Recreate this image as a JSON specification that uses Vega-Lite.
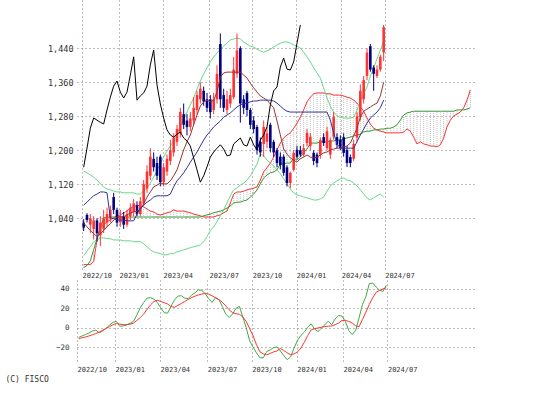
{
"$schema": "https://vega.github.io/schema/vega-lite/v6.json",
"background": "white",
"padding": {"left": 5, "top": 0, "right": 0, "bottom": 0},
"spacing": 11,
"bounds": "flush",
"resolve": {"scale": {"color": "independent"}},
"title": {"text": "(C) FISCO", "orient": "bottom", "anchor": "start", "fontSize": 8, "font": "DejaVu Sans Mono", "fontWeight": "normal", "color": "#333333", "offset": 4, "dx": -42},
"config": {
  "view": {"stroke": null},
  "font": "DejaVu Sans Mono",
  "axis": {"domain": false, "ticks": false, "tickSize": 0, "grid": true, "gridColor": "#7a7a7a", "gridDash": [1, 3], "gridWidth": 1, "labelColor": "#333333", "labelFont": "DejaVu Sans Mono", "labelOverlap": false}
},
"datasets": {
  "candles": [
{"k":0,"o":1030,"h":1038,"l":1010,"c":1018},{"k":1,"o":1048,"h":1052,"l":1030,"c":1036},{"k":2,"o":1025,"h":1050,"l":1005,"c":1040},{"k":3,"o":1015,"h":1045,"l":990,"c":1035},{"k":4,"o":1035,"h":1040,"l":985,"c":1005},{"k":5,"o":1000,"h":1045,"l":975,"c":1030},{"k":6,"o":1015,"h":1060,"l":1005,"c":1040},{"k":7,"o":1030,"h":1065,"l":1020,"c":1050},{"k":8,"o":1040,"h":1070,"l":1030,"c":1060},{"k":9,"o":1090,"h":1100,"l":1050,"c":1060},
{"k":10,"o":1060,"h":1065,"l":1020,"c":1030},{"k":11,"o":1030,"h":1060,"l":1020,"c":1045},{"k":12,"o":1045,"h":1055,"l":1015,"c":1025},{"k":13,"o":1025,"h":1060,"l":1020,"c":1050},{"k":14,"o":1045,"h":1075,"l":1035,"c":1065},{"k":15,"o":1055,"h":1085,"l":1045,"c":1075},{"k":16,"o":1070,"h":1080,"l":1045,"c":1050},{"k":17,"o":1050,"h":1090,"l":1045,"c":1080},{"k":18,"o":1075,"h":1130,"l":1070,"c":1120},{"k":19,"o":1110,"h":1165,"l":1100,"c":1150},
{"k":20,"o":1140,"h":1205,"l":1130,"c":1185},{"k":21,"o":1180,"h":1195,"l":1150,"c":1160},{"k":22,"o":1170,"h":1185,"l":1130,"c":1140},{"k":23,"o":1185,"h":1190,"l":1115,"c":1125},{"k":24,"o":1125,"h":1170,"l":1115,"c":1160},{"k":25,"o":1150,"h":1190,"l":1140,"c":1180},{"k":26,"o":1175,"h":1225,"l":1165,"c":1200},{"k":27,"o":1195,"h":1240,"l":1185,"c":1230},{"k":28,"o":1220,"h":1260,"l":1210,"c":1250},{"k":29,"o":1240,"h":1300,"l":1230,"c":1290},
{"k":30,"o":1285,"h":1310,"l":1250,"c":1260},{"k":31,"o":1270,"h":1285,"l":1235,"c":1255},{"k":32,"o":1255,"h":1290,"l":1245,"c":1275},{"k":33,"o":1270,"h":1325,"l":1260,"c":1300},{"k":34,"o":1295,"h":1340,"l":1285,"c":1330},{"k":35,"o":1320,"h":1360,"l":1310,"c":1345},{"k":36,"o":1340,"h":1350,"l":1305,"c":1315},{"k":37,"o":1320,"h":1335,"l":1290,"c":1300},{"k":38,"o":1320,"h":1330,"l":1275,"c":1290},{"k":39,"o":1295,"h":1335,"l":1285,"c":1320},
{"k":40,"o":1320,"h":1400,"l":1310,"c":1380},{"k":41,"o":1450,"h":1475,"l":1300,"c":1320},{"k":42,"o":1330,"h":1345,"l":1290,"c":1300},{"k":43,"o":1295,"h":1340,"l":1285,"c":1320},{"k":44,"o":1310,"h":1345,"l":1300,"c":1330},{"k":45,"o":1325,"h":1420,"l":1320,"c":1390},{"k":46,"o":1380,"h":1475,"l":1370,"c":1435},{"k":47,"o":1440,"h":1445,"l":1265,"c":1310},{"k":48,"o":1320,"h":1330,"l":1285,"c":1300},{"k":49,"o":1335,"h":1340,"l":1280,"c":1295},
{"k":50,"o":1295,"h":1300,"l":1250,"c":1260},{"k":51,"o":1270,"h":1280,"l":1240,"c":1250},{"k":52,"o":1255,"h":1260,"l":1190,"c":1200},{"k":53,"o":1220,"h":1230,"l":1185,"c":1195},{"k":54,"o":1215,"h":1270,"l":1185,"c":1255},{"k":55,"o":1220,"h":1255,"l":1205,"c":1240},{"k":56,"o":1260,"h":1265,"l":1195,"c":1205},{"k":57,"o":1220,"h":1225,"l":1185,"c":1195},{"k":58,"o":1200,"h":1205,"l":1160,"c":1170},{"k":59,"o":1185,"h":1195,"l":1155,"c":1165},
{"k":60,"o":1185,"h":1190,"l":1140,"c":1147},{"k":61,"o":1160,"h":1165,"l":1115,"c":1123},{"k":62,"o":1123,"h":1150,"l":1111,"c":1147},{"k":63,"o":1154,"h":1200,"l":1150,"c":1194},{"k":64,"o":1201,"h":1210,"l":1180,"c":1185},{"k":65,"o":1200,"h":1210,"l":1185,"c":1190},{"k":66,"o":1190,"h":1215,"l":1185,"c":1205},{"k":67,"o":1217,"h":1250,"l":1210,"c":1241},{"k":68,"o":1210,"h":1240,"l":1200,"c":1232},{"k":69,"o":1194,"h":1200,"l":1165,"c":1175},
{"k":70,"o":1190,"h":1195,"l":1160,"c":1170},{"k":71,"o":1190,"h":1230,"l":1180,"c":1224},{"k":72,"o":1231,"h":1240,"l":1210,"c":1217},{"k":73,"o":1205,"h":1255,"l":1200,"c":1245},{"k":74,"o":1190,"h":1230,"l":1180,"c":1224},{"k":75,"o":1232,"h":1290,"l":1225,"c":1279},{"k":76,"o":1231,"h":1240,"l":1205,"c":1213},{"k":77,"o":1225,"h":1235,"l":1200,"c":1205},{"k":78,"o":1231,"h":1240,"l":1185,"c":1194},{"k":79,"o":1201,"h":1210,"l":1161,"c":1170},
{"k":80,"o":1184,"h":1190,"l":1160,"c":1170},{"k":81,"o":1180,"h":1225,"l":1175,"c":1215},{"k":82,"o":1230,"h":1290,"l":1220,"c":1280},{"k":83,"o":1278,"h":1355,"l":1270,"c":1340},{"k":84,"o":1320,"h":1375,"l":1310,"c":1365},{"k":85,"o":1375,"h":1440,"l":1365,"c":1430},{"k":86,"o":1445,"h":1450,"l":1385,"c":1390},{"k":87,"o":1395,"h":1400,"l":1340,"c":1380},{"k":88,"o":1375,"h":1400,"l":1370,"c":1390},{"k":89,"o":1390,"h":1425,"l":1385,"c":1420},
{"k":90,"o":1430,"h":1495,"l":1410,"c":1490}
  ],
  "ind": [
{"k":0,"t":1029,"kj":1071,"bu":1151,"bl":952,"ch":1160,"m":-10,"sg":-11.2},
{"k":1,"t":1020,"kj":1078,"bu":1147,"bl":963,"ch":1205,"m":-8.5,"sg":-10.4},
{"k":2,"t":1011,"kj":1086,"bu":1142,"bl":973,"ch":1252,"m":-7,"sg":-9.6},
{"k":3,"t":1004,"kj":1093,"bu":1137,"bl":985,"ch":1276,"m":-5.5,"sg":-8.5},
{"k":4,"t":997,"kj":1097,"bu":1130,"bl":989,"ch":1271,"m":-3.5,"sg":-7.3},
{"k":5,"t":1004,"kj":1102,"bu":1121,"bl":994,"ch":1266,"m":-2.5,"sg":-6.1},
{"k":6,"t":1011,"kj":1102,"bu":1114,"bl":994,"ch":1262,"m":-5.3,"sg":-4.5},
{"k":7,"t":1020,"kj":1100,"bu":1109,"bl":992,"ch":1295,"m":-3.5,"sg":-2.6},
{"k":8,"t":1027,"kj":1041,"bu":1107,"bl":992,"ch":1325,"m":-0.5,"sg":-0.8},
{"k":9,"t":1036,"kj":1039,"bu":1104,"bl":989,"ch":1351,"m":2.5,"sg":1},
{"k":10,"t":1043,"kj":1036,"bu":1102,"bl":989,"ch":1363,"m":5.5,"sg":3.1},
{"k":11,"t":1043,"kj":1036,"bu":1102,"bl":989,"ch":1337,"m":6.5,"sg":4.3},
{"k":12,"t":1043,"kj":1036,"bu":1100,"bl":987,"ch":1323,"m":1.5,"sg":3.7},
{"k":13,"t":1048,"kj":1034,"bu":1100,"bl":987,"ch":1337,"m":1.8,"sg":3.1},
{"k":14,"t":1053,"kj":1034,"bu":1100,"bl":987,"ch":1377,"m":2.8,"sg":3.1},
{"k":15,"t":1055,"kj":1034,"bu":1100,"bl":985,"ch":1420,"m":4.5,"sg":3.6},
{"k":16,"t":1057,"kj":1050,"bu":1097,"bl":985,"ch":1318,"m":6.5,"sg":4.6},
{"k":17,"t":1060,"kj":1064,"bu":1097,"bl":985,"ch":1328,"m":13,"sg":7.5},
{"k":18,"t":1074,"kj":1071,"bu":1104,"bl":980,"ch":1335,"m":20.5,"sg":10.5},
{"k":19,"t":1090,"kj":1078,"bu":1111,"bl":973,"ch":1351,"m":26,"sg":14},
{"k":20,"t":1102,"kj":1083,"bu":1123,"bl":966,"ch":1401,"m":30.5,"sg":19},
{"k":21,"t":1114,"kj":1090,"bu":1137,"bl":961,"ch":1436,"m":31,"sg":23.5},
{"k":22,"t":1118,"kj":1093,"bu":1151,"bl":959,"ch":1354,"m":29.5,"sg":27},
{"k":23,"t":1123,"kj":1093,"bu":1170,"bl":957,"ch":1309,"m":26,"sg":28.3},
{"k":24,"t":1121,"kj":1093,"bu":1184,"bl":954,"ch":1276,"m":20.5,"sg":27},
{"k":25,"t":1121,"kj":1093,"bu":1198,"bl":954,"ch":1248,"m":15.5,"sg":25.8},
{"k":26,"t":1128,"kj":1097,"bu":1210,"bl":957,"ch":1236,"m":15,"sg":24.5},
{"k":27,"t":1140,"kj":1114,"bu":1222,"bl":957,"ch":1231,"m":22,"sg":21.8},
{"k":28,"t":1154,"kj":1128,"bu":1238,"bl":961,"ch":1238,"m":28.5,"sg":21},
{"k":29,"t":1177,"kj":1137,"bu":1257,"bl":963,"ch":1243,"m":32.5,"sg":23},
{"k":30,"t":1201,"kj":1147,"bu":1274,"bl":966,"ch":1229,"m":33,"sg":25},
{"k":31,"t":1220,"kj":1159,"bu":1290,"bl":968,"ch":1222,"m":30.5,"sg":27},
{"k":32,"t":1236,"kj":1172,"bu":1307,"bl":971,"ch":1210,"m":30,"sg":29.2},
{"k":33,"t":1260,"kj":1184,"bu":1323,"bl":973,"ch":1182,"m":33.5,"sg":31},
{"k":34,"t":1283,"kj":1196,"bu":1344,"bl":975,"ch":1154,"m":36,"sg":32.5},
{"k":35,"t":1304,"kj":1210,"bu":1363,"bl":977,"ch":1125,"m":39,"sg":33.8},
{"k":36,"t":1314,"kj":1224,"bu":1380,"bl":985,"ch":1140,"m":38.5,"sg":34.7},
{"k":37,"t":1318,"kj":1236,"bu":1394,"bl":997,"ch":1161,"m":35,"sg":35.3},
{"k":38,"t":1314,"kj":1245,"bu":1408,"bl":1011,"ch":1184,"m":30,"sg":34.5},
{"k":39,"t":1318,"kj":1255,"bu":1420,"bl":1020,"ch":1196,"m":26,"sg":33},
{"k":40,"t":1337,"kj":1262,"bu":1429,"bl":1032,"ch":1205,"m":31,"sg":31},
{"k":41,"t":1372,"kj":1269,"bu":1438,"bl":1046,"ch":1213,"m":29,"sg":29},
{"k":42,"t":1382,"kj":1278,"bu":1445,"bl":1060,"ch":1203,"m":22,"sg":26.3},
{"k":43,"t":1384,"kj":1283,"bu":1452,"bl":1076,"ch":1187,"m":14,"sg":22.5},
{"k":44,"t":1384,"kj":1288,"bu":1460,"bl":1093,"ch":1189,"m":10.5,"sg":18.5},
{"k":45,"t":1384,"kj":1295,"bu":1462,"bl":1107,"ch":1215,"m":14,"sg":15.5},
{"k":46,"t":1384,"kj":1302,"bu":1464,"bl":1111,"ch":1222,"m":20,"sg":14.3},
{"k":47,"t":1384,"kj":1307,"bu":1462,"bl":1118,"ch":1229,"m":22,"sg":13.9},
{"k":48,"t":1377,"kj":1309,"bu":1455,"bl":1123,"ch":1213,"m":11,"sg":11},
{"k":49,"t":1370,"kj":1311,"bu":1450,"bl":1130,"ch":1210,"m":0,"sg":6.5},
{"k":50,"t":1358,"kj":1314,"bu":1445,"bl":1140,"ch":1231,"m":-13.5,"sg":-1},
{"k":51,"t":1347,"kj":1316,"bu":1443,"bl":1154,"ch":1213,"m":-20,"sg":-8.5},
{"k":52,"t":1337,"kj":1316,"bu":1438,"bl":1168,"ch":1201,"m":-26,"sg":-17.5},
{"k":53,"t":1328,"kj":1318,"bu":1434,"bl":1191,"ch":1224,"m":-31,"sg":-25},
{"k":54,"t":1323,"kj":1318,"bu":1431,"bl":1187,"ch":1236,"m":-31,"sg":-27},
{"k":55,"t":1318,"kj":1318,"bu":1434,"bl":1177,"ch":1255,"m":-24.5,"sg":-28},
{"k":56,"t":1309,"kj":1318,"bu":1438,"bl":1170,"ch":1307,"m":-23,"sg":-26.5},
{"k":57,"t":1300,"kj":1316,"bu":1443,"bl":1163,"ch":1340,"m":-20.5,"sg":-25},
{"k":58,"t":1269,"kj":1311,"bu":1448,"bl":1154,"ch":1349,"m":-20,"sg":-24},
{"k":59,"t":1236,"kj":1304,"bu":1452,"bl":1145,"ch":1396,"m":-24,"sg":-21.5},
{"k":60,"t":1203,"kj":1297,"bu":1455,"bl":1133,"ch":1417,"m":-29,"sg":-23.5},
{"k":61,"t":1191,"kj":1292,"bu":1455,"bl":1121,"ch":1391,"m":-33,"sg":-26},
{"k":62,"t":1182,"kj":1290,"bu":1452,"bl":1109,"ch":1389,"m":-30,"sg":-28},
{"k":63,"t":1177,"kj":1290,"bu":1448,"bl":1100,"ch":1408,"m":-21,"sg":-27},
{"k":64,"t":1172,"kj":1290,"bu":1445,"bl":1095,"ch":1452,"m":-13,"sg":-25},
{"k":65,"t":1180,"kj":1290,"bu":1441,"bl":1093,"ch":1495,"m":-8,"sg":-21},
{"k":66,"t":1184,"kj":1290,"bu":1431,"bl":1090,"ch":null,"m":-4.5,"sg":-15},
{"k":67,"t":1189,"kj":1290,"bu":1420,"bl":1088,"ch":null,"m":0.5,"sg":-8},
{"k":68,"t":1184,"kj":1290,"bu":1408,"bl":1086,"ch":null,"m":4,"sg":-2.2},
{"k":69,"t":1182,"kj":1290,"bu":1394,"bl":1083,"ch":null,"m":-1.5,"sg":-1},
{"k":70,"t":1184,"kj":1290,"bu":1382,"bl":1083,"ch":null,"m":-4,"sg":-0.3},
{"k":71,"t":1189,"kj":1290,"bu":1370,"bl":1086,"ch":null,"m":-0.5,"sg":0.5},
{"k":72,"t":1194,"kj":1290,"bu":1347,"bl":1090,"ch":null,"m":3,"sg":1.2},
{"k":73,"t":1196,"kj":1290,"bu":1323,"bl":1104,"ch":null,"m":6.8,"sg":1.5},
{"k":74,"t":1201,"kj":1271,"bu":1304,"bl":1116,"ch":null,"m":3,"sg":1.8},
{"k":75,"t":1203,"kj":1241,"bu":1290,"bl":1123,"ch":null,"m":9,"sg":3},
{"k":76,"t":1205,"kj":1215,"bu":1281,"bl":1128,"ch":null,"m":12.5,"sg":4.8},
{"k":77,"t":1205,"kj":1205,"bu":1278,"bl":1133,"ch":null,"m":12,"sg":7.5},
{"k":78,"t":1208,"kj":1205,"bu":1276,"bl":1135,"ch":null,"m":6.5,"sg":7.5},
{"k":79,"t":1210,"kj":1205,"bu":1276,"bl":1130,"ch":null,"m":-3,"sg":6.5},
{"k":80,"t":1217,"kj":1205,"bu":1276,"bl":1128,"ch":null,"m":-7,"sg":4.8},
{"k":81,"t":1234,"kj":1205,"bu":1278,"bl":1123,"ch":null,"m":-3,"sg":2},
{"k":82,"t":1252,"kj":1220,"bu":1295,"bl":1116,"ch":null,"m":10,"sg":1},
{"k":83,"t":1278,"kj":1236,"bu":1316,"bl":1107,"ch":null,"m":24,"sg":8.5},
{"k":84,"t":1292,"kj":1250,"bu":1333,"bl":1097,"ch":null,"m":32,"sg":16},
{"k":85,"t":1297,"kj":1264,"bu":1349,"bl":1088,"ch":null,"m":45.5,"sg":24},
{"k":86,"t":1302,"kj":1276,"bu":1375,"bl":1083,"ch":null,"m":46,"sg":31},
{"k":87,"t":1307,"kj":1283,"bu":1394,"bl":1088,"ch":null,"m":42,"sg":36.5},
{"k":88,"t":1311,"kj":1290,"bu":1415,"bl":1093,"ch":null,"m":38.5,"sg":38.5},
{"k":89,"t":1328,"kj":1300,"bu":1436,"bl":1097,"ch":null,"m":37.5,"sg":40},
{"k":90,"t":1360,"kj":1318,"bu":1457,"bl":1090,"ch":null,"m":44,"sg":41.2}
  ],
  "kumo": [
{"k":0,"s1":931,"s2":924},{"k":1,"s1":931,"s2":929},{"k":2,"s1":931,"s2":940},{"k":3,"s1":938,"s2":966},{"k":4,"s1":989,"s2":992},{"k":5,"s1":1018,"s2":1018},{"k":6,"s1":1024,"s2":1041},{"k":7,"s1":1032,"s2":1043},{"k":8,"s1":1036,"s2":1043},{"k":9,"s1":1041,"s2":1043},
{"k":10,"s1":1046,"s2":1043},{"k":11,"s1":1048,"s2":1043},{"k":12,"s1":1053,"s2":1043},{"k":13,"s1":1057,"s2":1043},{"k":14,"s1":1064,"s2":1043},{"k":15,"s1":1067,"s2":1043},{"k":16,"s1":1071,"s2":1043},{"k":17,"s1":1069,"s2":1043},{"k":18,"s1":1067,"s2":1043},{"k":19,"s1":1062,"s2":1043},
{"k":20,"s1":1057,"s2":1043},{"k":21,"s1":1055,"s2":1043},{"k":22,"s1":1050,"s2":1043},{"k":23,"s1":1048,"s2":1043},{"k":24,"s1":1050,"s2":1043},{"k":25,"s1":1053,"s2":1043},{"k":26,"s1":1055,"s2":1043},{"k":27,"s1":1060,"s2":1043},{"k":28,"s1":1057,"s2":1043},{"k":29,"s1":1057,"s2":1043},
{"k":30,"s1":1057,"s2":1043},{"k":31,"s1":1055,"s2":1043},{"k":32,"s1":1053,"s2":1043},{"k":33,"s1":1050,"s2":1043},{"k":34,"s1":1048,"s2":1043},{"k":35,"s1":1046,"s2":1043},{"k":36,"s1":1043,"s2":1046},{"k":37,"s1":1043,"s2":1048},{"k":38,"s1":1043,"s2":1050},{"k":39,"s1":1043,"s2":1053},
{"k":40,"s1":1046,"s2":1055},{"k":41,"s1":1048,"s2":1057},{"k":42,"s1":1053,"s2":1060},{"k":43,"s1":1057,"s2":1064},{"k":44,"s1":1076,"s2":1069},{"k":45,"s1":1097,"s2":1076},{"k":46,"s1":1102,"s2":1078},{"k":47,"s1":1102,"s2":1078},{"k":48,"s1":1104,"s2":1081},{"k":49,"s1":1107,"s2":1083},
{"k":50,"s1":1109,"s2":1090},{"k":51,"s1":1111,"s2":1097},{"k":52,"s1":1114,"s2":1107},{"k":53,"s1":1130,"s2":1121},{"k":54,"s1":1149,"s2":1135},{"k":55,"s1":1159,"s2":1142},{"k":56,"s1":1170,"s2":1147},{"k":57,"s1":1184,"s2":1149},{"k":58,"s1":1201,"s2":1154},{"k":59,"s1":1217,"s2":1168},
{"k":60,"s1":1229,"s2":1168},{"k":61,"s1":1236,"s2":1170},{"k":62,"s1":1241,"s2":1170},{"k":63,"s1":1252,"s2":1182},{"k":64,"s1":1264,"s2":1177},{"k":65,"s1":1278,"s2":1184},{"k":66,"s1":1295,"s2":1194},{"k":67,"s1":1314,"s2":1203},{"k":68,"s1":1325,"s2":1217},{"k":69,"s1":1333,"s2":1217},
{"k":70,"s1":1335,"s2":1217},{"k":71,"s1":1335,"s2":1220},{"k":72,"s1":1335,"s2":1220},{"k":73,"s1":1333,"s2":1220},{"k":74,"s1":1333,"s2":1222},{"k":75,"s1":1330,"s2":1222},{"k":76,"s1":1330,"s2":1224},{"k":77,"s1":1330,"s2":1224},{"k":78,"s1":1328,"s2":1227},{"k":79,"s1":1325,"s2":1229},
{"k":80,"s1":1323,"s2":1231},{"k":81,"s1":1318,"s2":1234},{"k":82,"s1":1311,"s2":1236},{"k":83,"s1":1302,"s2":1238},{"k":84,"s1":1292,"s2":1243},{"k":85,"s1":1276,"s2":1245},{"k":86,"s1":1262,"s2":1245},{"k":87,"s1":1252,"s2":1248},{"k":88,"s1":1248,"s2":1248},{"k":89,"s1":1245,"s2":1250},
{"k":90,"s1":1243,"s2":1250},{"k":91,"s1":1241,"s2":1252},{"k":92,"s1":1241,"s2":1252},{"k":93,"s1":1241,"s2":1255},{"k":94,"s1":1241,"s2":1260},{"k":95,"s1":1241,"s2":1271},{"k":96,"s1":1243,"s2":1283},{"k":97,"s1":1250,"s2":1288},{"k":98,"s1":1245,"s2":1290},{"k":99,"s1":1231,"s2":1292},
{"k":100,"s1":1215,"s2":1292},{"k":101,"s1":1220,"s2":1292},{"k":102,"s1":1215,"s2":1292},{"k":103,"s1":1213,"s2":1292},{"k":104,"s1":1210,"s2":1292},{"k":105,"s1":1210,"s2":1292},{"k":106,"s1":1208,"s2":1292},{"k":107,"s1":1213,"s2":1292},{"k":108,"s1":1229,"s2":1292},{"k":109,"s1":1255,"s2":1292},
{"k":110,"s1":1271,"s2":1292},{"k":111,"s1":1281,"s2":1292},{"k":112,"s1":1285,"s2":1295},{"k":113,"s1":1290,"s2":1295},{"k":114,"s1":1300,"s2":1295},{"k":115,"s1":1318,"s2":1297},{"k":116,"s1":1342,"s2":1300}
  ],
  "labels": [
{"n":"CHIKO","v":1486},{"n":"BOL +2 : 26","v":1461},{"n":"TENKAN","v":1360},{"n":"SENKO 1","v":1340},{"n":"KIJYUN","v":1319},{"n":"SENKO 2","v":1296},{"n":"BOL -2 : 26","v":1082},{"n":"MACD","v":876},{"n":"SIGNAL","v":852.4}
  ]
},
"vconcat": [
{
  "width": 400,
  "height": 269,
  "encoding": {
    "x": {"field": "k", "type": "quantitative", "title": null,
      "scale": {"domain": [-0.5, 116.5], "nice": false, "zero": false},
      "axis": {"values": [-0.5, 10.6, 23.8, 37.6, 50.6, 63.8, 77.3, 90.3],
        "labelExpr": "datum.value < 5 ? '2022/10' : datum.value < 17 ? '2023/01' : datum.value < 30 ? '2023/04' : datum.value < 44 ? '2023/07' : datum.value < 57 ? '2023/10' : datum.value < 70 ? '2024/01' : datum.value < 84 ? '2024/04' : '2024/07'",
        "labelAlign": "left", "labelFontSize": 7, "labelPadding": 2, "labelOverlap": false, "labelFlush": false, "labelBound": false}}
  },
  "layer": [
    {"data": {"name": "kumo"},
     "mark": {"type": "rule", "color": "#bdbdbd", "strokeWidth": 1, "strokeDash": [1, 1], "clip": true},
     "encoding": {
       "y": {"field": "s1", "type": "quantitative", "title": null,
         "scale": {"domain": [920.7, 1553.7], "nice": false, "zero": false},
         "axis": {"values": [1040, 1120, 1200, 1280, 1360, 1440], "format": ",d", "labelFontSize": 8.5, "labelPadding": 4, "labelOverlap": false}},
       "y2": {"field": "s2"}}},
    {"data": {"name": "kumo"},
     "mark": {"type": "line", "color": "#ff3333", "strokeWidth": 1, "clip": true},
     "encoding": {"y": {"field": "s1", "type": "quantitative", "title": null}}},
    {"data": {"name": "kumo"},
     "mark": {"type": "line", "color": "#339933", "strokeWidth": 1, "clip": true},
     "encoding": {"y": {"field": "s2", "type": "quantitative", "title": null}}},
    {"data": {"name": "ind"},
     "mark": {"type": "line", "color": "#66d98a", "strokeWidth": 1, "clip": true},
     "encoding": {"y": {"field": "bu", "type": "quantitative", "title": null}}},
    {"data": {"name": "ind"},
     "mark": {"type": "line", "color": "#66d98a", "strokeWidth": 1, "clip": true},
     "encoding": {"y": {"field": "bl", "type": "quantitative", "title": null}}},
    {"data": {"name": "candles"},
     "mark": {"type": "rule", "strokeWidth": 1, "clip": true},
     "encoding": {
       "y": {"field": "l", "type": "quantitative", "title": null},
       "y2": {"field": "h"},
       "color": {"condition": {"test": "datum.c >= datum.o", "value": "#ff3333"}, "value": "#000080"}}},
    {"data": {"name": "candles"},
     "mark": {"type": "bar", "width": 2.6, "clip": true},
     "encoding": {
       "y": {"field": "o", "type": "quantitative", "title": null},
       "y2": {"field": "c"},
       "color": {"condition": {"test": "datum.c >= datum.o", "value": "#ff3333"}, "value": "#000080"}}},
    {"data": {"name": "ind"},
     "mark": {"type": "line", "color": "#993333", "strokeWidth": 1, "clip": true},
     "encoding": {"y": {"field": "t", "type": "quantitative", "title": null}}},
    {"data": {"name": "ind"},
     "mark": {"type": "line", "color": "#333399", "strokeWidth": 1, "clip": true},
     "encoding": {"y": {"field": "kj", "type": "quantitative", "title": null}}},
    {"data": {"name": "ind"},
     "mark": {"type": "line", "color": "#000000", "strokeWidth": 1, "clip": true},
     "encoding": {"y": {"field": "ch", "type": "quantitative", "title": null}}},
    {"data": {"name": "labels"},
     "mark": {"type": "text", "align": "left", "baseline": "middle", "fontSize": 8.5, "font": "DejaVu Sans Mono"},
     "encoding": {
       "x": {"datum": 119.1},
       "y": {"field": "v", "type": "quantitative", "title": null},
       "text": {"field": "n"},
       "color": {"field": "n", "type": "nominal", "legend": null,
         "scale": {"domain": ["CHIKO", "BOL +2 : 26", "TENKAN", "SENKO 1", "KIJYUN", "SENKO 2", "BOL -2 : 26", "MACD", "SIGNAL"],
                   "range": ["#222222", "#5ccf80", "#993333", "#ff3333", "#333399", "#339933", "#5ccf80", "#44aa44", "#ff3333"]}}}}
  ]
},
{
  "width": 400,
  "height": 82,
  "encoding": {
    "x": {"field": "k", "type": "quantitative", "title": null,
      "scale": {"domain": [-0.5, 116.5], "nice": false, "zero": false},
      "axis": {"values": [-0.5, 10.6, 23.8, 37.6, 50.6, 63.8, 77.3, 90.3],
        "labelExpr": "datum.value < 5 ? '2022/10' : datum.value < 17 ? '2023/01' : datum.value < 30 ? '2023/04' : datum.value < 44 ? '2023/07' : datum.value < 57 ? '2023/10' : datum.value < 70 ? '2024/01' : datum.value < 84 ? '2024/04' : '2024/07'",
        "labelAlign": "left", "labelFontSize": 7, "labelPadding": 3, "labelOverlap": false, "labelFlush": false, "labelBound": false}}
  },
  "layer": [
    {"data": {"name": "ind"},
     "mark": {"type": "line", "color": "#44aa44", "strokeWidth": 1, "clip": true},
     "encoding": {
       "y": {"field": "m", "type": "quantitative", "title": null,
         "scale": {"domain": [-35.4, 49.2], "nice": false, "zero": false},
         "axis": {"values": [-20, 0, 20, 40], "labelFontSize": 7.5, "labelPadding": 8, "labelOverlap": false}}}},
    {"data": {"name": "ind"},
     "mark": {"type": "line", "color": "#ff3333", "strokeWidth": 1, "clip": true},
     "encoding": {
       "y": {"field": "sg", "type": "quantitative", "title": null,
         "axis": {"values": [-20, 0, 20, 40], "labelFontSize": 7.5, "labelPadding": 8, "labelOverlap": false}}}}
  ]
}
]
}
